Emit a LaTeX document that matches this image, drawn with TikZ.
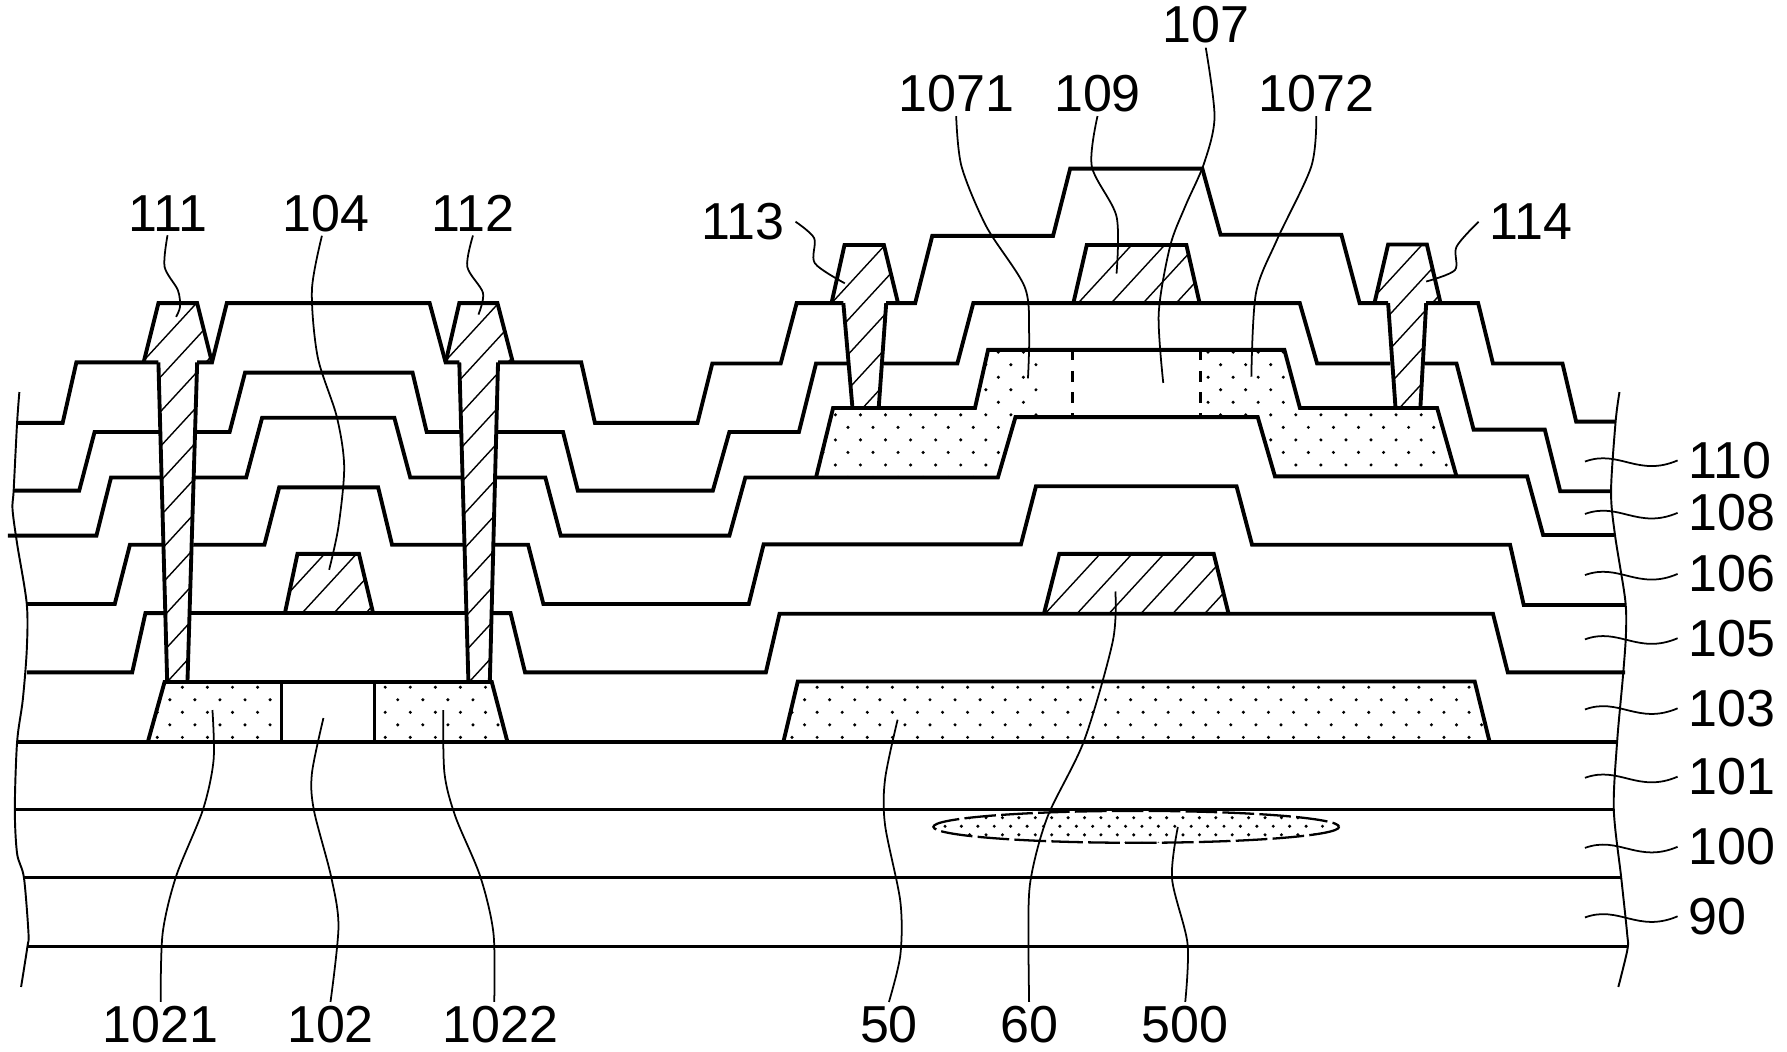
\documentclass[tikz,border=0pt]{standalone}
\usepackage{fontspec}
\setmainfont{Liberation Sans}
\tikzset{
  layerline/.style={line width=1.1pt,line join=miter},
  thinline/.style={line width=0.85pt},
  hatchline/.style={line width=0.4pt},
  leader/.style={line width=0.5pt},
  breakline/.style={line width=0.55pt},
  reflabel/.style={font=\fontsize{14.8}{16}\selectfont,inner sep=1pt},
  sidelabel/.style={reflabel,inner xsep=3pt}
}
% staggered dots: x0, y0, rows, columns, dx, dy
\newcommand{\dotgrid}[6]{\foreach \pr in {0,...,#3} {\foreach \pc in {0,...,#4} {\fill ({#1+\pc*#5+mod(\pr,2)*#5/2},{#2+\pr*#6}) circle (1.5);}}}
% slanted hatching: outline, list of x values, base y
\newcommand{\hatchin}[3]{\begin{scope}\clip #1;\foreach \h in {#2} {\draw[hatchline] (\h,#3) -- ++(552,-600);}\end{scope}}
\begin{document}
\begin{tikzpicture}[x=0.011397cm,y=-0.011397cm]
\useasboundingbox (0,0) rectangle (1568,923);

% dotted fills
\begin{scope}
\clip (130,650) -- (144.4,598.4) -- (247,598.4) -- (247,650) -- cycle;
\dotgrid{138}{603}{4}{5}{22}{11}
\end{scope}
\begin{scope}
\clip (329,650) -- (329,598.4) -- (431.5,598.4) -- (445,650) -- cycle;
\dotgrid{338}{603}{4}{5}{22}{11}
\end{scope}
\begin{scope}
\clip (687.6,650) -- (700,598) -- (1294,598) -- (1306.8,650) -- cycle;
\dotgrid{695}{603}{4}{28}{22}{11}
\end{scope}
\begin{scope}
\clip (716,419) -- (731,358) -- (855.5,358) -- (867,307) -- (941,307) -- (941,366) -- (891,366) -- (875.6,419) -- cycle;
\dotgrid{722}{309}{10}{8}{22}{11}
\end{scope}
\begin{scope}
\clip (1278,418) -- (1261,358) -- (1140.6,358) -- (1127,307) -- (1053,307) -- (1053,366) -- (1103.6,366) -- (1118.7,418) -- cycle;
\dotgrid{1060}{309}{10}{10}{22}{11}
\end{scope}
\begin{scope}
\clip (997,725.5) ellipse (178 and 14);
\dotgrid{822}{717.5}{3}{24}{14.4}{7.5}
\end{scope}
\draw[line width=0.65pt,dash pattern=on 9pt off 1.5pt] (997,725.5) ellipse (178 and 14);

% hatched electrodes
\hatchin{(250,538) -- (261,486) -- (315,486) -- (327.4,538) -- cycle}{237,265,293,321}{538}
\hatchin{(916,538.5) -- (929.4,486) -- (1065,486) -- (1078,538.5) -- cycle}{917,945,973,1001,1029,1057}{538.5}
\hatchin{(941.8,266) -- (953.6,215) -- (1041,215) -- (1052.6,266) -- cycle}{946,975,1003,1032}{266}
\hatchin{(126,318) -- (139,266) -- (173,266) -- (186,318) -- (173,318) -- (164.5,598) -- (146.7,598) -- (139,318) -- cycle}{-133,-105,...,200}{598}
\hatchin{(391,318) -- (403,266) -- (436.5,266) -- (450,318) -- (437,318) -- (429.8,598) -- (411,598) -- (403,318) -- cycle}{132,160,...,470}{598}
\hatchin{(729.6,266) -- (741,215) -- (775.6,215) -- (788,266) -- (777.6,266) -- (771,358) -- (748,358) -- (740,266) -- cycle}{645,673,...,790}{358}
\hatchin{(1206,266) -- (1218,214.5) -- (1252,214.5) -- (1264,266) -- (1251.4,266) -- (1246.3,358) -- (1224.5,358) -- (1218,266) -- cycle}{1116,1144,...,1270}{358}

\draw[layerline] (250,538) -- (261,486) -- (315,486) -- (327.4,538);
\draw[layerline] (916,538.5) -- (929.4,486) -- (1065,486) -- (1078,538.5);
\draw[layerline] (941.8,266) -- (953.6,215) -- (1041,215) -- (1052.6,266);
\draw[layerline] (126,318) -- (139,266) -- (173,266) -- (186,318);
\draw[layerline] (139,318) -- (146.7,598);
\draw[layerline] (173,318) -- (164.5,598);
\draw[layerline] (391,318) -- (403,266) -- (436.5,266) -- (450,318);
\draw[layerline] (403,318) -- (411,598);
\draw[layerline] (437,318) -- (429.8,598);
\draw[layerline] (729.6,266) -- (741,215) -- (775.6,215) -- (788,266);
\draw[layerline] (740,266) -- (748,358);
\draw[layerline] (777.6,266) -- (771,358);
\draw[layerline] (1206,266) -- (1218,214.5) -- (1252,214.5) -- (1264,266);
\draw[layerline] (1218,266) -- (1224.5,358);
\draw[layerline] (1251.4,266) -- (1246.3,358);

% film surfaces
\draw[layerline] (15,371) -- (55,371) -- (67,318) -- (139,318);
\draw[layerline] (173,318) -- (186,318) -- (199,266) -- (377,266) -- (391,318) -- (403,318);
\draw[layerline] (437,318) -- (510,318) -- (522,371) -- (612,371) -- (625,319) -- (685,319) -- (699,266) -- (740,266);
\draw[layerline] (777.6,266) -- (803,266) -- (818,207) -- (924,207) -- (939,148) -- (1055,148) -- (1071,206) -- (1177,206) -- (1193,266) -- (1218,266);
\draw[layerline] (1251.4,266) -- (1297,266) -- (1310,319) -- (1371,319) -- (1383,370) -- (1417,370);

\draw[layerline] (12,430.5) -- (69.5,430.5) -- (83,379) -- (139.5,379);
\draw[layerline] (172,379) -- (201.5,379) -- (215,327) -- (362,327) -- (374.4,379) -- (405,379);
\draw[layerline] (435,379) -- (494,379) -- (507,430.5) -- (625.5,430.5) -- (640,379) -- (701,379) -- (716,319) -- (744,319);
\draw[layerline] (775,319) -- (840,319) -- (854,266) -- (1140.5,266) -- (1155.7,319) -- (1220,319);
\draw[layerline] (1249.7,319) -- (1278,319) -- (1293,377) -- (1355.5,377) -- (1369,431) -- (1414,431);

\draw[layerline] (7,470) -- (84.6,470) -- (97.4,419) -- (141,419);
\draw[layerline] (171,419) -- (216,419) -- (230,366.5) -- (346,366.5) -- (360,419) -- (406,419);
\draw[layerline] (433,419) -- (478.5,419) -- (492,470) -- (640,470) -- (654,419) -- (875.6,419) -- (891,366) -- (1103.6,366) -- (1118.7,418) -- (1340,418) -- (1354,469.4) -- (1416,469.4);

\draw[layerline] (23.5,530) -- (100.7,530) -- (114,478) -- (142.7,478);
\draw[layerline] (169.6,478) -- (232,478) -- (245,427.6) -- (331.8,427.6) -- (344,478) -- (408,478);
\draw[layerline] (431.5,478) -- (463.4,478) -- (476.8,530) -- (657,530) -- (670,477.7) -- (895.8,477.7) -- (909,426.7) -- (1085,426.7) -- (1098.6,478) -- (1325,478) -- (1337,530.8) -- (1426,530.8);

\draw[layerline] (23.5,590) -- (116,590) -- (127.6,538) -- (146.7,538);
\draw[layerline] (166,538) -- (409.7,538);
\draw[layerline] (430,538) -- (448,538) -- (460.7,590) -- (672,590) -- (684,538.5) -- (1310,538.5) -- (1323,590) -- (1426,590);

% semiconductor islands
\draw[layerline] (130,650) -- (144.4,598.4) -- (431.5,598.4) -- (445,650);
\draw[thinline] (247,598.4) -- (247,650);
\draw[thinline] (329,598.4) -- (329,650);
\draw[layerline] (687.6,650) -- (700,598) -- (1294,598) -- (1306.8,650);
\draw[layerline] (716,419) -- (731,358) -- (855.5,358) -- (867,307) -- (1127,307) -- (1140.6,358) -- (1261,358) -- (1278,418);
\draw[thinline,dashed] (941,307) -- (941,366);
\draw[thinline,dashed] (1053,307) -- (1053,366);

% substrate films
\draw[layerline] (15,651) -- (1419,651);
\draw[thinline] (13,710.5) -- (1416,710.5);
\draw[layerline] (21,770) -- (1422.6,770);
\draw[layerline] (24,830.5) -- (1428,830.5);

% cut-off edges
\draw[breakline] plot[smooth] coordinates {(17,344) (15,371) (12,430) (11,447) (15,477) (23.5,530) (23.5,570) (20,614) (15,651) (13,710) (15,749) (21,770) (25,819) (24,831) (18.5,866)};
\draw[breakline] plot[smooth] coordinates {(1421,344) (1417.6,370) (1413.6,431) (1417,469) (1426,526) (1426.7,556) (1424,594) (1419,650) (1416,710) (1422.6,770.7) (1427.7,819) (1428,833) (1420,866)};

% labels
\node[reflabel] (l111) at (147,187) {111};
\node[reflabel] (l104) at (286,187) {104};
\node[reflabel] (l112) at (415,187) {112};
\node[sidelabel,anchor=east] (l113) at (698,194.5) {113};
\node[sidelabel,anchor=west] (l114) at (1297.4,194.5) {114};
\node[reflabel] (l1071) at (839,82) {1071};
\node[reflabel] (l109) at (963,82) {109};
\node[reflabel] (l107) at (1058,22) {107};
\node[reflabel] (l1072) at (1155,82) {1072};
\node[reflabel] (l1021) at (141,899) {1021};
\node[reflabel] (l102) at (290,899) {102};
\node[reflabel] (l1022) at (439,899) {1022};
\node[reflabel] (l50) at (780,899) {50};
\node[reflabel] (l60) at (903,899) {60};
\node[reflabel] (l500) at (1040,899) {500};

\foreach \lab/\ly in {110/404,108/450,106/503.6,105/560,103/621.5,101/681.5,100/743,90/804} {
  \node[sidelabel,anchor=west] (l\lab) at (1472,\ly) {\lab};
  \coordinate (c\lab) at (1390.7,\ly+1);
  \draw[leader] (c\lab) .. controls +(30,-11) and +(-35,15) .. (l\lab.west);
}

\coordinate (c111) at (154.5,278);
\coordinate (c104) at (288.8,500);
\coordinate (c112) at (419.8,276);
\coordinate (c113) at (741.3,248.6);
\coordinate (c114) at (1251.4,247);
\coordinate (c1071) at (902,332);
\coordinate (c109) at (979.7,240);
\coordinate (c107) at (1020.7,336);
\coordinate (c1072) at (1098,330.5);
\coordinate (c1021) at (186.4,623);
\coordinate (c102) at (283.8,630);
\coordinate (c1022) at (388.9,623);
\coordinate (c50) at (787.6,631.5);
\coordinate (c60) at (978.7,519);
\coordinate (c500) at (1033.5,725.6);

\draw[leader] plot[smooth] coordinates {(l111.south) (144.4,234) (156,254.4) (158,269) (c111)};
\draw[leader] plot[smooth] coordinates {(l104.260) (273.7,254.4) (278.7,313) (295.5,365.6) (302,409.5) (297,462) (c104)};
\draw[leader] plot[smooth] coordinates {(l112.south) (410,234) (423.8,257) (c112)};
\draw[leader] plot[smooth] coordinates {(l113.east) (714.4,209) (715,231) (c113)};
\draw[leader] plot[smooth] coordinates {(l114.west) (1278,216.5) (1276.6,237) (c114)};
\draw[leader] plot[smooth] coordinates {(l1071.south) (843.7,146) (865.6,199) (899,251.5) (903,292.5) (c1071)};
\draw[leader] plot[smooth] coordinates {(l109.south) (958,146) (979.7,190) (c109)};
\draw[leader] plot[smooth] coordinates {(l107.south) (1065.7,102.4) (1056.6,143) (1040,181) (1026.7,216) (1016.7,275) (c107)};
\draw[leader] plot[smooth] coordinates {(l1072.south) (1150.6,146) (1120.4,210.6) (1102,257.4) (c1072)};
\draw[leader] plot[smooth] coordinates {(c1021) (187.4,667) (178,710.7) (154.5,769) (142.7,819) (l1021.north)};
\draw[leader] plot[smooth] coordinates {(c102) (273.7,678.5) (275.4,710.7) (290.5,769) (297,813) (l102.north)};
\draw[leader] plot[smooth] coordinates {(c1022) (390,678.5) (399.6,716.5) (421.4,769) (433,819) (l1022.105)};
\draw[leader] plot[smooth] coordinates {(c50) (776.6,683.6) (776.6,724) (790,791) (790,838) (l50.north)};
\draw[leader] plot[smooth] coordinates {(c60) (976.4,562.7) (951.2,650) (919,717) (904,774) (902.5,828) (l60.north)};
\draw[leader] plot[smooth] coordinates {(c500) (1028.4,771) (1042,828) (l500.north)};
\end{tikzpicture}
\end{document}
